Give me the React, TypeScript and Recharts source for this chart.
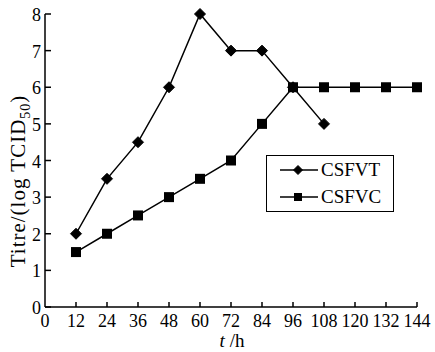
import React from 'react';
import { LineChart, Line, XAxis, YAxis } from 'recharts';

const hours = [12, 24, 36, 48, 60, 72, 84, 96, 108, 120, 132, 144];
const csfvt = [2, 3.5, 4.5, 6, 8, 7, 7, 6, 5, null, null, null];
const csfvc = [1.5, 2, 2.5, 3, 3.5, 4, 5, 6, 6, 6, 6, 6];
const xTicks = [0, 12, 24, 36, 48, 60, 72, 84, 96, 108, 120, 132, 144];
const yTicks = [0, 1, 2, 3, 4, 5, 6, 7, 8];
const seriesNames = ['CSFVT', 'CSFVC'];

const FONT = '"Liberation Serif", "Times New Roman", serif';
const txt = { fontFamily: FONT };

const data = hours.map((h, i) => ({ h, CSFVT: csfvt[i], CSFVC: csfvc[i] }));

const Diamond = ({ cx, cy, half }: any) => {
  if (cx == null || cy == null) return null;
  const r = half ?? 5.5;
  return <polygon points={`${cx},${cy - r} ${cx + r},${cy} ${cx},${cy + r} ${cx - r},${cy}`} fill="#000" stroke="#000" strokeLinejoin="round" />;
};

const Square = ({ cx, cy, side }: any) => {
  if (cx == null || cy == null) return null;
  const s = side ?? 10;
  return <rect x={cx - s / 2} y={cy - s / 2} width={s} height={s} fill="#000" />;
};

const XTick = ({ x, y, payload }: any) => {
  const axisY = y - 6;
  return (
    <g>
      {payload.value !== 0 && <line x1={x} y1={axisY} x2={x} y2={axisY - 5} stroke="#000" strokeWidth={1.5} />}
      <text x={x} y={y} dy={14} textAnchor="middle" style={txt} fontSize={18} fill="#000">{payload.value}</text>
    </g>
  );
};

const YTick = ({ x, y, payload }: any) => {
  const axisX = x + 4;
  return (
    <g>
      <line x1={axisX} y1={y} x2={axisX + 6} y2={y} stroke="#000" strokeWidth={1.5} />
      <text x={x} y={y} dy={7} textAnchor="end" style={txt} fontSize={18} fill="#000">{payload.value}</text>
    </g>
  );
};

const Legend = () => (
  <div style={{ position: 'absolute', left: 266, top: 155, width: 128, height: 57, border: '1.5px solid #000', background: '#fff', boxSizing: 'border-box' }}>
    {seriesNames.map((name, i) => (
      <div key={name} style={{ position: 'absolute', left: 13, top: 3 + i * 27, height: 22, display: 'flex', alignItems: 'center' }}>
        <svg width={38} height={14}>
          <line x1={0} y1={7} x2={38} y2={7} stroke="#000" strokeWidth={1.5} />
          {i === 0 ? <Diamond cx={18} cy={7} half={4.5} /> : <Square cx={18} cy={7} side={8} />}
        </svg>
        <span style={{ fontFamily: FONT, fontSize: 19, marginLeft: 3, lineHeight: '22px' }}>{name}</span>
      </div>
    ))}
  </div>
);

export default function App() {
  return (
    <div style={{ position: 'absolute', left: 0, top: 0, width: 435, height: 352, background: '#fff' }}>
      <LineChart width={435} height={352} data={data} margin={{ top: 14, right: 18, bottom: 0, left: 0 }}>
        <XAxis
          dataKey="h"
          type="number"
          domain={[0, 144]}
          ticks={xTicks}
          interval={0}
          height={45}
          tickSize={0}
          tickMargin={6}
          tick={<XTick />}
          axisLine={{ stroke: '#000', strokeWidth: 1.5 }}
        />
        <YAxis
          type="number"
          domain={[0, 8]}
          ticks={yTicks}
          interval={0}
          width={45}
          tickSize={0}
          tickMargin={4}
          tick={<YTick />}
          axisLine={{ stroke: '#000', strokeWidth: 1.5 }}
        />
        <Line dataKey="CSFVT" stroke="#000" strokeWidth={1.5} dot={<Diamond />} activeDot={false} isAnimationActive={false} />
        <Line dataKey="CSFVC" stroke="#000" strokeWidth={1.5} dot={<Square />} activeDot={false} isAnimationActive={false} />
        <text transform="translate(25,181) rotate(-90)" textAnchor="middle" style={txt} fontSize={21} fill="#000" letterSpacing={1}>
          Titre/(log TCID<tspan fontSize={14} dy={5}>50</tspan><tspan dy={-5}>)</tspan>
        </text>
        <text x={232} y={347} textAnchor="middle" style={txt} fontSize={19} fill="#000">
          <tspan fontStyle="italic">t</tspan> /h
        </text>
      </LineChart>
      <Legend />
    </div>
  );
}
